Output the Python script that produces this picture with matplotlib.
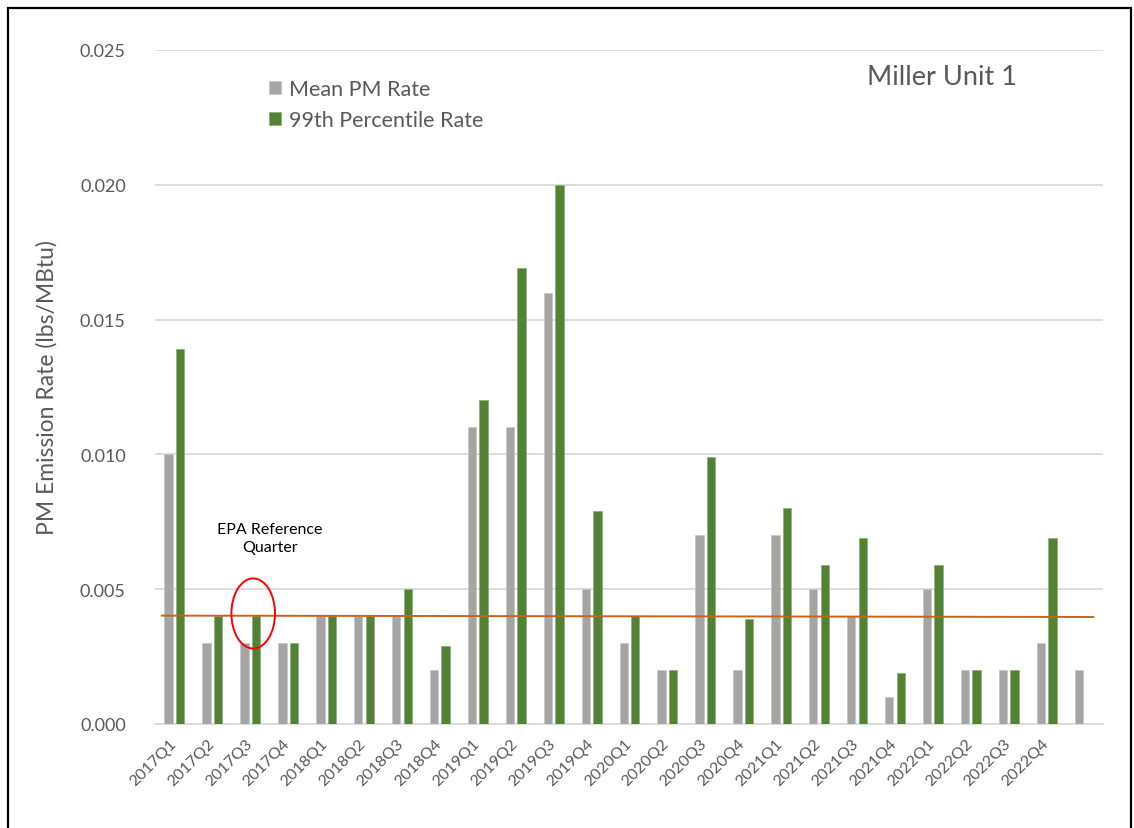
import matplotlib
matplotlib.use("Agg")
import matplotlib.pyplot as plt
from matplotlib.patches import Ellipse, Rectangle
import numpy as np

plt.rcParams['font.family'] = ['Lato', 'DejaVu Sans']

categories = ["2017Q1", "2017Q2", "2017Q3", "2017Q4",
              "2018Q1", "2018Q2", "2018Q3", "2018Q4",
              "2019Q1", "2019Q2", "2019Q3", "2019Q4",
              "2020Q1", "2020Q2", "2020Q3", "2020Q4",
              "2021Q1", "2021Q2", "2021Q3", "2021Q4",
              "2022Q1", "2022Q2", "2022Q3", "2022Q4", ""]

mean_pm = [0.010, 0.003, 0.003, 0.003,
           0.004, 0.004, 0.004, 0.002,
           0.011, 0.011, 0.016, 0.005,
           0.003, 0.002, 0.007, 0.002,
           0.007, 0.005, 0.004, 0.001,
           0.005, 0.002, 0.002, 0.003, 0.002]

p99 = [0.0139, 0.004, 0.004, 0.003,
       0.004, 0.004, 0.005, 0.0029,
       0.012, 0.0169, 0.020, 0.0079,
       0.004, 0.002, 0.0099, 0.0039,
       0.008, 0.0059, 0.0069, 0.0019,
       0.0059, 0.002, 0.002, 0.0069, np.nan]

ref_level = [0.00402, 0.00397]  # reference line (start, end)
yticks = [0.000, 0.005, 0.010, 0.015, 0.020, 0.025]

GRAY = "#A5A5A5"
GREEN = "#548235"
ORANGE = "#C9631A"
TXT = "#595959"

fig = plt.figure(figsize=(11.34, 8.29), dpi=100)
ax = fig.add_axes([155/1134, 1 - 725/829, (1103-155)/1134, (725-51)/829])

x = np.arange(len(categories))
w = 0.22
ax.bar(x - 0.14, mean_pm, width=w, color=GRAY, edgecolor="#C8C8C8", linewidth=0.6,
       label="Mean PM Rate", zorder=3)
ax.bar(x + 0.165, p99, width=w, color=GREEN, edgecolor="#8FB07A", linewidth=0.6,
       label="99th Percentile Rate", zorder=3)

ax.plot([-0.32, len(categories) - 0.76], ref_level, color=ORANGE, lw=1.4, zorder=4)

ax.set_xlim(-0.5, len(categories) - 0.5)
ax.set_ylim(0, 0.025)
ax.set_yticks(yticks)
ax.set_yticklabels([f"{v:.3f}" for v in yticks], fontsize=13, color=TXT)
ax.yaxis.grid(True, color="#D9D9D9", lw=1.3, zorder=0)
ax.set_axisbelow(True)
for s in ["top", "right", "left"]:
    ax.spines[s].set_visible(False)
ax.spines["bottom"].set_color("#D9D9D9")
ax.spines["bottom"].set_linewidth(1.3)
ax.tick_params(axis="both", length=0)
ax.tick_params(axis="y", pad=21)

ax.set_xticks(x)
ax.set_xticklabels(categories, rotation=45, ha="right", va="center",
                   rotation_mode="anchor", fontsize=11.5, color=TXT)
ax.tick_params(axis="x", pad=12)

ax.set_ylabel("PM Emission Rate (lbs/MBtu)", fontsize=16.5, color=TXT, labelpad=16)

leg = ax.legend(loc="upper left", bbox_to_anchor=(0.1, 0.986), frameon=False,
                fontsize=15.5, handlelength=0.55, handleheight=0.55, handletextpad=0.35,
                labelspacing=0.52, labelcolor=TXT)

ax.text(0.830, 0.961, "Miller Unit 1", transform=ax.transAxes, fontsize=19.5,
        color=TXT, ha="center", va="center")

ax.text(2.53, 0.0069, "EPA Reference\nQuarter", fontsize=11.5, color="black",
        ha="center", va="center", linespacing=1.45)

ax.add_patch(Ellipse((2.09, 0.0041), width=1.15, height=0.0026,
                     fill=False, edgecolor="#FF0000", lw=1.4, zorder=5))

fig.patches.append(Rectangle((8/1134, -0.01), (1131-8)/1134, 1.01 - 9/829,
                             transform=fig.transFigure, fill=False,
                             edgecolor="black", lw=1.6))

fig.savefig("out.png", dpi=100)
